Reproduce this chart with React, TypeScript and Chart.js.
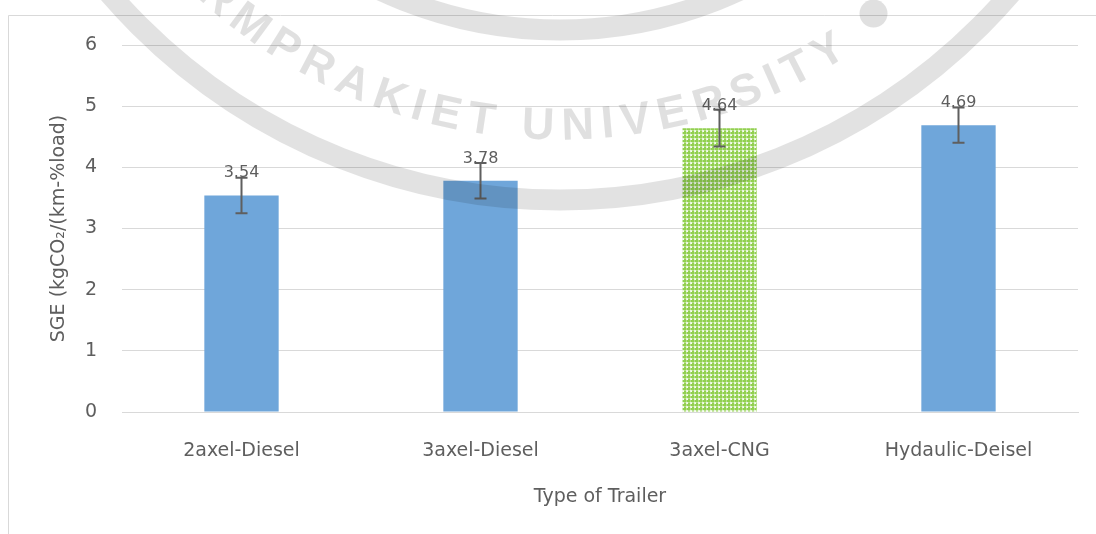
import { useEffect, useRef } from "react";
import { Chart, registerables } from "chart.js";

Chart.register(...registerables);

// Trailer types and their specific GHG emission values
const CATEGORIES = ["2axel-Diesel", "3axel-Diesel", "3axel-CNG", "Hydaulic-Deisel"];
const SGE_VALUES = [3.54, 3.78, 4.64, 4.69];
const SGE_ERRORS = [0.29, 0.29, 0.3, 0.29];
const Y_TICKS = [0, 1, 2, 3, 4, 5, 6];
const X_TITLE = "Type of Trailer";
const Y_TITLE = "SGE (kgCO\u2082/(km-%load)";
const SEAL_TEXT = "CHALERMPRAKIET UNIVERSITY";

const FONT_FAMILY = "'DejaVu Sans', 'Noto Sans', sans-serif";
const TEXT_COLOR = "#5e5e5e";
const GRID_COLOR = "#d9d9d9";
const BLUE = "#6fa6da";

function makeLatticePattern(ctx: CanvasRenderingContext2D): CanvasPattern | string {
  const tile = document.createElement("canvas");
  tile.width = 4;
  tile.height = 4;
  const t = tile.getContext("2d");
  if (!t) return "#92d050";
  // green lattice around small pale squares
  t.fillStyle = "#92d050";
  t.fillRect(0, 0, 4, 4);
  t.fillStyle = "#b4df88";
  t.fillRect(2, 0, 1, 4);
  t.fillRect(0, 2, 4, 1);
  t.fillStyle = "#e8f6dc";
  t.fillRect(2, 2, 2, 2);
  t.fillStyle = "#f8fdf4";
  t.fillRect(3, 3, 1, 1);
  return ctx.createPattern(tile, "repeat") || "#92d050";
}

// Thin frame around the chart object
const framePlugin = {
  id: "frame",
  beforeDraw(chart: any) {
    const { ctx, width, height } = chart;
    ctx.save();
    ctx.fillStyle = "#ffffff";
    ctx.fillRect(0, 0, width, height);
    ctx.strokeStyle = GRID_COLOR;
    ctx.lineWidth = 1;
    ctx.beginPath();
    ctx.moveTo(8.5, height);
    ctx.lineTo(8.5, 15.5);
    ctx.lineTo(width, 15.5);
    ctx.stroke();
    ctx.restore();
  },
};

// Error bars and value labels above each bar
const errorLabelPlugin = {
  id: "errorLabels",
  afterDatasetsDraw(chart: any) {
    const { ctx } = chart;
    const yScale = chart.scales.y;
    const meta = chart.getDatasetMeta(0);
    ctx.save();
    meta.data.forEach((bar: any, i: number) => {
      const x = bar.x;
      const yHi = yScale.getPixelForValue(SGE_VALUES[i] + SGE_ERRORS[i]);
      const yLo = yScale.getPixelForValue(SGE_VALUES[i] - SGE_ERRORS[i]);
      ctx.strokeStyle = "#5f5f5f";
      ctx.lineWidth = 2;
      ctx.beginPath();
      ctx.moveTo(x, yHi);
      ctx.lineTo(x, yLo);
      ctx.moveTo(x - 6, yHi);
      ctx.lineTo(x + 6, yHi);
      ctx.moveTo(x - 6, yLo);
      ctx.lineTo(x + 6, yLo);
      ctx.stroke();

      ctx.fillStyle = TEXT_COLOR;
      ctx.font = `16px ${FONT_FAMILY}`;
      ctx.textAlign = "center";
      ctx.textBaseline = "alphabetic";
      ctx.fillText(SGE_VALUES[i].toFixed(2), x, bar.y - 18);
    });
    ctx.restore();
  },
};

// Faint circular university seal laid over the chart
const sealPlugin = {
  id: "seal",
  afterDraw(chart: any) {
    const { ctx } = chart;
    const cx = 560;
    const cy = -395;
    const textR = 522;
    ctx.save();
    ctx.globalCompositeOperation = "multiply";
    ctx.strokeStyle = "rgb(226,226,226)";
    ctx.lineWidth = 21;
    ctx.beginPath();
    ctx.arc(cx, cy, 595, 0, Math.PI * 2);
    ctx.stroke();
    ctx.beginPath();
    ctx.arc(cx, cy, 425, 0, Math.PI * 2);
    ctx.stroke();

    ctx.fillStyle = "rgb(224,224,224)";
    ctx.font = `bold 45px 'Liberation Sans', sans-serif`;
    ctx.textAlign = "center";
    ctx.textBaseline = "middle";
    const chars = SEAL_TEXT.split("");
    const widths = chars.map((c) => ctx.measureText(c).width);
    const first = SEAL_TEXT.indexOf("M");
    const last = chars.length - 1;
    const startAngle = (126.5 * Math.PI) / 180;
    const endAngle = (59 * Math.PI) / 180;
    let sumW = 0;
    for (let j = first; j < last; j++) sumW += widths[j];
    const arcLen = textR * (startAngle - endAngle);
    const spacing = (arcLen - sumW - (widths[last] - widths[first]) / 2) / (last - first);
    const centers: number[] = [];
    let acc = 0;
    chars.forEach((_, i) => {
      centers.push(acc + widths[i] / 2);
      acc += widths[i] + spacing;
    });
    chars.forEach((ch, i) => {
      const theta = startAngle - (centers[i] - centers[first]) / textR;
      ctx.save();
      ctx.translate(cx + textR * Math.cos(theta), cy + textR * Math.sin(theta));
      ctx.rotate(theta - Math.PI / 2);
      ctx.fillText(ch, 0, 0);
      ctx.restore();
    });
    const dotAngle = (52.5 * Math.PI) / 180;
    ctx.beginPath();
    ctx.arc(cx + 515 * Math.cos(dotAngle), cy + 515 * Math.sin(dotAngle), 14, 0, Math.PI * 2);
    ctx.fill();
    ctx.restore();
  },
};

export default function App() {
  const canvasRef = useRef<HTMLCanvasElement | null>(null);

  useEffect(() => {
    const canvas = canvasRef.current;
    if (!canvas) return;
    const ctx = canvas.getContext("2d");
    if (!ctx) return;
    const lattice = makeLatticePattern(ctx);
    const font = { family: FONT_FAMILY, size: 19 };

    const chart = new Chart(canvas, {
      type: "bar",
      data: {
        labels: CATEGORIES,
        datasets: [
          {
            data: SGE_VALUES,
            backgroundColor: [BLUE, BLUE, lattice, BLUE],
            borderWidth: 0,
            barPercentage: 1,
            categoryPercentage: 0.311,
          },
        ],
      },
      options: {
        responsive: false,
        animation: false,
        devicePixelRatio: 1,
        layout: { padding: { left: 0, top: 45, right: 18, bottom: 0 } },
        plugins: {
          legend: { display: false },
          tooltip: { enabled: false },
        },
        scales: {
          x: {
            grid: { display: false, drawTicks: false },
            border: { display: true, color: GRID_COLOR },
            ticks: { color: TEXT_COLOR, font, padding: 28 },
            title: {
              display: true,
              text: X_TITLE,
              color: TEXT_COLOR,
              font,
              padding: { top: 0, bottom: 26 },
            },
            afterFit: (s: any) => {
              s.height = 122;
            },
          },
          y: {
            min: 0,
            max: 6,
            afterBuildTicks: (s: any) => {
              s.ticks = Y_TICKS.map((v) => ({ value: v }));
            },
            ticks: { color: TEXT_COLOR, font, padding: 25 },
            grid: { color: GRID_COLOR, drawTicks: false },
            border: { display: false },
            title: {
              display: true,
              text: Y_TITLE,
              color: TEXT_COLOR,
              font,
              padding: { top: 48, bottom: 0 },
            },
            afterFit: (s: any) => {
              s.width = 122;
            },
          },
        },
      },
      plugins: [framePlugin, errorLabelPlugin, sealPlugin],
    } as any);

    return () => chart.destroy();
  }, []);

  return (
    <div style={{ position: "absolute", left: 0, top: 0, width: 1096, height: 534, background: "#fff" }}>
      <canvas ref={canvasRef} width={1096} height={534} style={{ display: "block" }} />
    </div>
  );
}
